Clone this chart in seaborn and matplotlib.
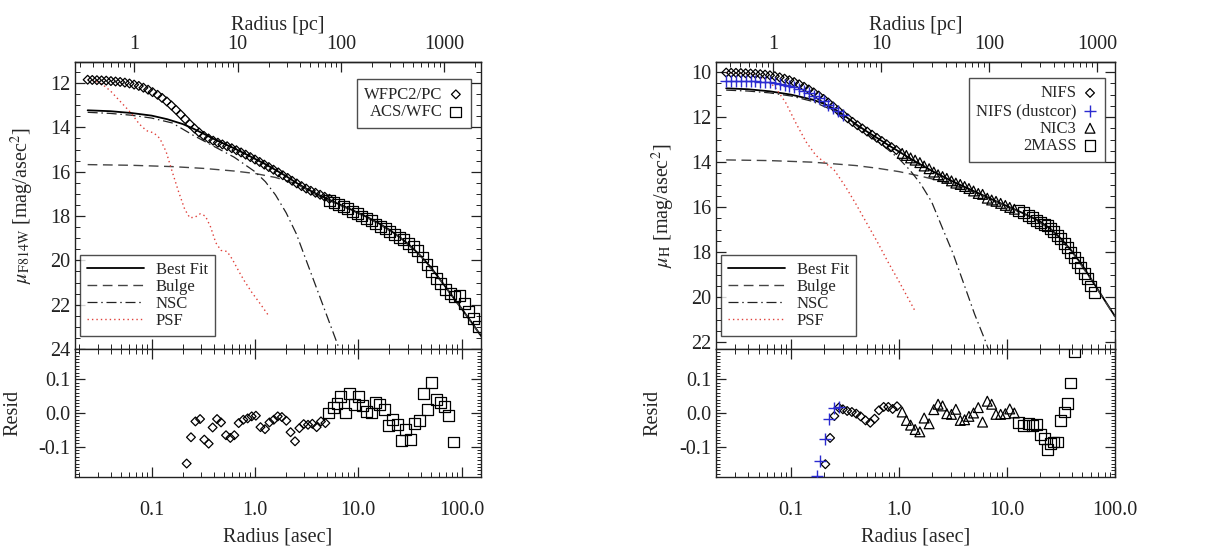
import matplotlib
matplotlib.use("Agg")
import matplotlib.pyplot as plt
import numpy as np
import seaborn as sns
from matplotlib.ticker import FixedLocator, LogLocator, MultipleLocator, NullFormatter

# ---------------- left panel (F814W) ----------------
PC_PER_ASEC = 14.7

wfpc_r = [0.0240, 0.0266, 0.0295, 0.0327, 0.0363, 0.0403, 0.0447, 0.0495, 0.0550, 0.0610,
          0.0676, 0.0750, 0.0832, 0.0923, 0.102, 0.114, 0.126, 0.140, 0.155, 0.172,
          0.191, 0.211, 0.234, 0.260, 0.288, 0.320, 0.355, 0.394, 0.437, 0.484,
          0.537, 0.596, 0.661, 0.733, 0.813, 0.902, 1.00, 1.11, 1.23, 1.36,
          1.51, 1.68, 1.86, 2.07, 2.29, 2.54, 2.82, 3.13, 3.47, 3.85,
          4.27, 4.73, 5.25]
wfpc_mu = [11.85, 11.86, 11.87, 11.88, 11.89, 11.91, 11.93, 11.95, 11.98, 12.02,
           12.07, 12.13, 12.21, 12.30, 12.41, 12.53, 12.67, 12.83, 13.01, 13.21,
           13.42, 13.63, 13.85, 14.05, 14.23, 14.38, 14.50, 14.60, 14.69, 14.77,
           14.85, 14.94, 15.03, 15.13, 15.23, 15.34, 15.45, 15.56, 15.68, 15.79,
           15.91, 16.03, 16.16, 16.28, 16.41, 16.53, 16.65, 16.76, 16.86, 16.95,
           17.04, 17.13, 17.22]

acs_r = [5.25, 5.82, 6.46, 7.16, 7.94, 8.81, 9.77, 10.8, 12.0, 13.3,
         14.8, 16.4, 18.2, 20.2, 22.4, 24.8, 27.5, 30.5, 33.9, 37.6,
         41.7, 46.2, 51.3, 56.9, 63.1, 70.0, 77.6, 86.1, 95.5, 106,
         117, 130, 145]
acs_mu = [17.30, 17.38, 17.46, 17.55, 17.66, 17.78, 17.90, 18.00, 18.10, 18.22,
          18.36, 18.46, 18.56, 18.70, 18.82, 18.96, 19.08, 19.22, 19.38, 19.57,
          19.85, 20.20, 20.50, 20.80, 21.05, 21.30, 21.50, 21.62, 21.58, 21.95,
          22.30, 22.62, 23.00]

fitL_r = [0.0240, 0.0398, 0.0631, 0.100, 0.141, 0.200, 0.251, 0.316, 0.398, 0.501,
          0.631, 0.794, 1.00, 1.26, 1.58, 2.00, 2.51, 3.16, 3.98, 5.01,
          6.31, 7.94, 10.0, 12.6, 15.8, 20.0, 25.1, 31.6, 39.8, 50.1,
          63.1, 79.4, 100, 126, 158]
fitL_mu = [13.23, 13.27, 13.35, 13.47, 13.63, 13.85, 14.05, 14.28, 14.52, 14.74,
           14.95, 15.18, 15.42, 15.66, 15.92, 16.20, 16.50, 16.77, 17.01, 17.22,
           17.44, 17.64, 17.86, 18.08, 18.33, 18.62, 18.95, 19.33, 19.78, 20.30,
           20.92, 21.55, 22.18, 22.82, 23.48]

bulgeL_r = [0.0240, 0.0631, 0.158, 0.316, 0.631, 1.00, 1.58, 2.51, 3.98, 6.31,
            10.0, 15.8, 25.1, 39.8, 63.1, 100, 158]
bulgeL_mu = [15.68, 15.71, 15.77, 15.85, 15.97, 16.08, 16.26, 16.55, 17.06, 17.47,
             17.88, 18.35, 18.96, 19.79, 20.93, 22.19, 23.49]

nscL_r = [0.0240, 0.0398, 0.0631, 0.100, 0.158, 0.251, 0.398, 0.631, 1.00, 1.26,
          1.58, 2.00, 2.51, 3.16, 3.98, 5.01, 6.31, 6.61]
nscL_mu = [13.32, 13.37, 13.45, 13.58, 13.80, 14.35, 14.85, 15.35, 16.00, 16.45,
           17.05, 17.85, 18.80, 20.05, 21.30, 22.55, 23.80, 24.10]

psfL_r = [0.0240, 0.0282, 0.0331, 0.0398, 0.0501, 0.0631, 0.0759, 0.0891, 0.105, 0.120,
          0.138, 0.158, 0.182, 0.209, 0.234, 0.263, 0.295, 0.331, 0.372, 0.417,
          0.468, 0.537, 0.603, 0.708, 0.794, 0.933, 1.12, 1.38]
psfL_mu = [11.85, 11.90, 12.05, 12.35, 12.85, 13.35, 13.85, 14.15, 14.25, 14.50,
           15.10, 16.00, 16.90, 17.70, 18.08, 18.05, 17.90, 18.00, 18.50, 19.20,
           19.55, 19.60, 19.95, 20.55, 20.95, 21.45, 21.95, 22.55]

wfpc_res_r = [0.218, 0.240, 0.265, 0.294, 0.323, 0.356, 0.389, 0.429, 0.469, 0.524,
              0.577, 0.631, 0.695, 0.771, 0.849, 0.929, 1.02, 1.13, 1.25, 1.38,
              1.52, 1.66, 1.82, 2.01, 2.21, 2.44, 2.69, 2.96, 3.26, 3.59,
              3.95, 4.35, 4.80]
wfpc_res = [-0.150, -0.072, -0.025, -0.018, -0.079, -0.091, -0.043, -0.018, -0.028, -0.066,
            -0.074, -0.066, -0.030, -0.020, -0.016, -0.010, -0.008, -0.042, -0.048, -0.028,
            -0.020, -0.010, -0.012, -0.023, -0.057, -0.084, -0.045, -0.033, -0.035, -0.032,
            -0.042, -0.025, -0.030]
acs_res_r = [5.16, 5.73, 6.22, 6.79, 7.48, 8.30, 9.15, 10.1, 11.0, 12.1,
             13.3, 14.6, 16.2, 17.9, 19.7, 21.6, 23.8, 26.3, 28.9, 31.9,
             35.1, 38.9, 42.6, 46.9, 51.6, 56.9, 62.2, 68.4, 75.4, 83.0]
acs_res = [0.000, 0.017, 0.028, 0.048, 0.000, 0.057, 0.025, 0.048, 0.023, 0.005,
           0.000, 0.030, 0.024, 0.010, -0.038, -0.018, -0.035, -0.082, -0.050, -0.079,
           -0.030, -0.022, 0.059, 0.010, 0.091, 0.040, 0.030, 0.020, -0.008, -0.086]

# ---------------- right panel (H band) ----------------
nifs_r = [0.0251, 0.0279, 0.0309, 0.0343, 0.0380, 0.0422, 0.0468, 0.0519, 0.0575, 0.0638,
          0.0708, 0.0785, 0.0871, 0.0966, 0.107, 0.119, 0.132, 0.146, 0.162, 0.180,
          0.200, 0.221, 0.245, 0.272, 0.302, 0.335, 0.371, 0.412, 0.457, 0.507,
          0.562, 0.624, 0.692, 0.767, 0.851, 0.944]
nifs_mu = [10.02, 10.03, 10.03, 10.04, 10.05, 10.06, 10.07, 10.09, 10.11, 10.14,
           10.18, 10.23, 10.29, 10.36, 10.44, 10.54, 10.65, 10.77, 10.90, 11.04,
           11.19, 11.35, 11.52, 11.70, 11.88, 12.05, 12.21, 12.36, 12.50, 12.64,
           12.78, 12.92, 13.06, 13.20, 13.33, 13.46]
dust_r = [0.0251, 0.0279, 0.0309, 0.0343, 0.0380, 0.0422, 0.0468, 0.0519, 0.0575, 0.0638,
          0.0708, 0.0785, 0.0871, 0.0966, 0.107, 0.119, 0.132, 0.146, 0.162, 0.180,
          0.200, 0.221, 0.245, 0.272, 0.302]
dust_mu = [10.38, 10.38, 10.38, 10.39, 10.39, 10.40, 10.41, 10.42, 10.43, 10.45,
           10.48, 10.52, 10.57, 10.62, 10.68, 10.76, 10.84, 10.94, 11.05, 11.17,
           11.30, 11.44, 11.59, 11.74, 11.90]
nic3_r = [1.07, 1.17, 1.28, 1.41, 1.56, 1.71, 1.90, 2.10, 2.30, 2.53,
          2.77, 3.06, 3.36, 3.69, 4.05, 4.44, 4.90, 5.42, 5.94, 6.57,
          7.21, 7.91, 8.73, 9.65, 10.6, 11.7]
nic3_mu = [13.61, 13.70, 13.81, 13.91, 14.02, 14.17, 14.29, 14.44, 14.56, 14.64,
           14.72, 14.83, 14.93, 14.99, 15.08, 15.17, 15.28, 15.39, 15.43, 15.60,
           15.68, 15.74, 15.83, 15.92, 16.01, 16.09]
tmass_r = [12.9, 14.2, 15.7, 17.2, 18.9, 20.6, 22.2, 23.7, 25.3, 26.9,
           29.6, 31.5, 33.8, 36.3, 39.0, 41.9, 45.0, 48.3, 51.9, 55.7,
           59.8, 64.3]
tmass_mu = [16.15, 16.24, 16.36, 16.47, 16.59, 16.67, 16.76, 16.83, 16.95, 17.06,
            17.26, 17.40, 17.60, 17.79, 18.00, 18.25, 18.45, 18.68, 18.95, 19.15,
            19.50, 19.80]

fitR_r = [0.0251, 0.0398, 0.0631, 0.100, 0.158, 0.200, 0.251, 0.316, 0.398, 0.501,
          0.631, 0.794, 1.00, 1.26, 1.58, 2.00, 2.51, 3.16, 3.98, 5.01,
          6.31, 7.94, 10.0, 12.6, 15.8, 20.0, 25.1, 31.6, 39.8, 50.1,
          63.1, 79.4, 100]
fitR_mu = [10.72, 10.76, 10.85, 11.00, 11.22, 11.40, 11.63, 11.95, 12.31, 12.63,
           12.93, 13.24, 13.53, 13.83, 14.10, 14.38, 14.62, 14.86, 15.08, 15.30,
           15.52, 15.74, 15.95, 16.16, 16.38, 16.62, 16.95, 17.40, 17.95, 18.60,
           19.35, 20.10, 20.85]

bulgeR_r = [0.0251, 0.0631, 0.158, 0.398, 0.631, 1.00, 1.58, 2.51, 3.98, 6.31,
            10.0, 15.8, 25.1, 39.8, 63.1, 100]
bulgeR_mu = [13.90, 13.93, 14.00, 14.15, 14.27, 14.42, 14.62, 14.85, 15.15, 15.55,
             15.97, 16.40, 16.97, 17.97, 19.37, 20.87]

nscR_r = [0.0251, 0.0398, 0.0631, 0.100, 0.158, 0.251, 0.398, 0.631, 1.00, 1.26,
          1.58, 2.00, 2.51, 3.16, 3.98, 5.01, 6.31, 7.08]
nscR_mu = [10.80, 10.84, 10.92, 11.06, 11.30, 11.72, 12.35, 13.05, 13.85, 14.35,
           14.95, 15.75, 16.90, 18.05, 19.40, 20.75, 21.95, 22.60]

psfR_r = [0.0251, 0.0355, 0.0447, 0.0562, 0.0708, 0.0891, 0.112, 0.138, 0.170, 0.209,
          0.251, 0.316, 0.398, 0.501, 0.631, 0.794, 1.00, 1.20, 1.43]
psfR_mu = [10.02, 10.05, 10.10, 10.30, 10.65, 11.35, 12.30, 13.10, 13.70, 14.05,
           14.35, 15.05, 15.85, 16.70, 17.55, 18.45, 19.30, 20.00, 20.67]

dust_res_r = [0.173, 0.187, 0.208, 0.227, 0.252, 0.277]
dust_res = [-0.187, -0.142, -0.076, -0.017, 0.016, 0.018]
nifs_res_r = [0.208, 0.230, 0.252, 0.277, 0.302, 0.331, 0.366, 0.402, 0.441, 0.490,
              0.542, 0.594, 0.652, 0.721, 0.796, 0.873, 0.958]
nifs_res = [-0.152, -0.074, -0.009, 0.016, 0.011, 0.006, 0.003, -0.002, -0.010, -0.022,
            -0.029, -0.017, 0.008, 0.018, 0.018, 0.012, 0.020]
nic3_res_r = [1.07, 1.17, 1.28, 1.41, 1.56, 1.71, 1.90, 2.10, 2.30, 2.53,
              2.77, 3.06, 3.36, 3.69, 4.05, 4.44, 4.90, 5.42, 5.94, 6.57,
              7.21, 7.91, 8.73, 9.65, 10.6, 11.7]
nic3_res = [0.003, -0.022, -0.036, -0.049, -0.056, -0.015, -0.032, 0.010, 0.026, 0.021,
            -0.002, -0.004, 0.011, -0.022, -0.020, -0.010, 0.000, 0.016, -0.027, 0.035,
            0.026, -0.004, -0.004, -0.002, 0.012, 0.000]
tmass_res_r = [12.9, 14.2, 15.7, 17.2, 18.9, 20.6, 22.2, 23.7, 25.3, 26.9,
               29.6, 31.5, 33.8, 36.3, 39.0, 41.9]
tmass_res = [-0.029, -0.036, -0.032, -0.038, -0.034, -0.064, -0.076, -0.107, -0.091, -0.086,
             -0.086, -0.022, 0.003, 0.028, 0.089, 0.183]

# ---------------- style ----------------
sns.set_style("ticks")
plt.rcParams["font.family"] = ["Liberation Serif", "DejaVu Serif"]
plt.rcParams["mathtext.fontset"] = "stix"
plt.rcParams["axes.unicode_minus"] = False
plt.rcParams["axes.linewidth"] = 1.0
plt.rcParams["axes.edgecolor"] = "#222222"

TICK_FS = 14.5
LABEL_FS = 14.5
LEG_FS = 12
BLUE = "#2b2bd0"
RED = "#e0403a"
DIAM_S = 20
SQ_S = 62
TRI_S = 50


def open_markers(ax, x, y, marker, size, label=None):
    sns.scatterplot(x=x, y=y, ax=ax, marker=marker, s=size, facecolors="none",
                    edgecolor="black", linewidth=0.9, label=label, zorder=4)


def model_line(ax, x, y, label, **kw):
    sns.lineplot(x=x, y=y, ax=ax, label=label, estimator=None, sort=False, **kw)


def style_axes(ax_main, ax_res, xlim, ylim, yticks):
    for ax in (ax_main, ax_res):
        ax.set_xscale("log")
        ax.set_xlim(*xlim)
        ax.tick_params(which="both", direction="in", right=True, colors="#222222",
                       labelsize=TICK_FS)
        ax.tick_params(which="major", length=7, width=0.9)
        ax.tick_params(which="minor", length=3.5, width=0.7)
        ax.xaxis.set_minor_locator(LogLocator(base=10, subs=np.arange(2, 10)))
        ax.xaxis.set_minor_formatter(NullFormatter())
    ax_main.tick_params(which="both", top=False, bottom=True, labelbottom=False)
    ax_res.tick_params(axis="x", which="both", top=True, bottom=True, pad=17)
    ax_main.set_ylim(*ylim)
    ax_main.yaxis.set_major_locator(FixedLocator(yticks))
    ax_main.set_yticklabels([str(t) for t in yticks])
    ax_main.yaxis.set_minor_locator(MultipleLocator(0.5))
    ax_res.set_ylim(-0.19, 0.19)
    ax_res.yaxis.set_major_locator(FixedLocator([-0.1, 0.0, 0.1]))
    ax_res.set_yticklabels(["-0.1", "0.0", "0.1"])
    ax_res.yaxis.set_minor_locator(MultipleLocator(0.01))
    ax_res.tick_params(axis="y", which="minor", length=3)
    xt = [0.1, 1.0, 10.0, 100.0]
    ax_res.xaxis.set_major_locator(FixedLocator(xt))
    ax_res.set_xticklabels(["0.1", "1.0", "10.0", "100.0"])
    ax_res.set_xlabel("Radius [asec]", fontsize=LABEL_FS, labelpad=6)
    ax_res.set_ylabel("Resid", fontsize=LABEL_FS)

    sec = ax_main.secondary_xaxis("top", functions=(lambda r: r * PC_PER_ASEC,
                                                    lambda p: p / PC_PER_ASEC))
    sec.set_xticks([1, 10, 100, 1000])
    sec.set_xticklabels(["1", "10", "100", "1000"])
    sec.xaxis.set_minor_locator(LogLocator(base=10, subs=np.arange(2, 10)))
    sec.xaxis.set_minor_formatter(NullFormatter())
    sec.tick_params(which="both", direction="in", labelsize=TICK_FS, pad=6,
                    colors="#222222")
    sec.tick_params(which="major", length=7, width=0.9)
    sec.tick_params(which="minor", length=3.5, width=0.7)
    sec.set_xlabel("Radius [pc]", fontsize=LABEL_FS, labelpad=3)


def line_legend(ax, handles, labels):
    leg = ax.legend(handles, labels, loc="lower left", bbox_to_anchor=(0.012, 0.045),
                    fontsize=LEG_FS, frameon=True, fancybox=False, edgecolor="#222222",
                    handlelength=3.4, handletextpad=0.7, borderpad=0.45,
                    labelspacing=0.05, borderaxespad=0.0)
    leg.get_frame().set_linewidth(1.0)
    return leg


def marker_legend(ax, handles, labels, anchor):
    leg = ax.legend(handles, labels, loc="upper right", bbox_to_anchor=anchor,
                    fontsize=LEG_FS, frameon=True, fancybox=False, edgecolor="#222222",
                    markerfirst=False, handlelength=0.9, handletextpad=0.35,
                    borderpad=0.45, labelspacing=0.1, borderaxespad=0.0)
    leg.get_frame().set_linewidth(1.0)
    return leg


fig = plt.figure(figsize=(12.29, 5.47), dpi=100)

# axes geometry (pixels from the reference)
W, H = 1229.0, 547.0
top, mid, bot = 62.0, 349.0, 477.0


def add_pair(x0, x1):
    main = fig.add_axes([x0 / W, (H - mid) / H, (x1 - x0) / W, (mid - top) / H])
    res = fig.add_axes([x0 / W, (H - bot) / H, (x1 - x0) / W, (bot - mid) / H],
                       sharex=main)
    return main, res


axL, axLr = add_pair(75, 481)
axR, axRr = add_pair(716, 1115)

# ---- left panel ----
model_line(axL, fitL_r, fitL_mu, "Best Fit", color="black", linewidth=1.3)
model_line(axL, bulgeL_r, bulgeL_mu, "Bulge", color="#444444", linewidth=1.0,
           dashes=(7, 4))
model_line(axL, nscL_r, nscL_mu, "NSC", color="#222222", linewidth=0.9,
           dashes=(8, 3, 1.2, 3))
model_line(axL, psfL_r, psfL_mu, "PSF", color=RED, linewidth=1.0, dashes=(1, 2.2))
open_markers(axL, wfpc_r, wfpc_mu, "D", DIAM_S, "WFPC2/PC")
open_markers(axL, acs_r, acs_mu, "s", SQ_S, "ACS/WFC")

open_markers(axLr, wfpc_res_r, wfpc_res, "D", DIAM_S)
open_markers(axLr, acs_res_r, acs_res, "s", SQ_S)

style_axes(axL, axLr, (0.0181, 154), (24.0, 11.05), [12, 14, 16, 18, 20, 22, 24])
axL.set_ylabel(r"$\mu_{\rm F814W}$ [mag/asec$^2$]", fontsize=LABEL_FS)
axL.yaxis.set_label_coords(-0.097, 0.5)
axLr.yaxis.set_label_coords(-0.13, 0.5)

h, l = axL.get_legend_handles_labels()
axL.add_artist(line_legend(axL, h[:4], l[:4]))
marker_legend(axL, h[4:], l[4:], (0.975, 0.94))

# ---- right panel ----
model_line(axR, fitR_r, fitR_mu, "Best Fit", color="black", linewidth=1.3)
model_line(axR, bulgeR_r, bulgeR_mu, "Bulge", color="#444444", linewidth=1.0,
           dashes=(7, 4))
model_line(axR, nscR_r, nscR_mu, "NSC", color="#222222", linewidth=0.9,
           dashes=(8, 3, 1.2, 3))
model_line(axR, psfR_r, psfR_mu, "PSF", color=RED, linewidth=1.0, dashes=(1, 2.2))
open_markers(axR, nifs_r, nifs_mu, "D", DIAM_S, "NIFS")
sns.scatterplot(x=dust_r, y=dust_mu, ax=axR, marker="+", s=70, color=BLUE,
                linewidth=1.0, label="NIFS (dustcor)", zorder=5)
open_markers(axR, nic3_r, nic3_mu, "^", TRI_S, "NIC3")
open_markers(axR, tmass_r, tmass_mu, "s", SQ_S, "2MASS")

open_markers(axRr, nifs_res_r, nifs_res, "D", DIAM_S)
sns.scatterplot(x=dust_res_r, y=dust_res, ax=axRr, marker="+", s=70, color=BLUE,
                linewidth=1.0, zorder=5)
open_markers(axRr, nic3_res_r, nic3_res, "^", TRI_S)
open_markers(axRr, tmass_res_r, tmass_res, "s", SQ_S)

style_axes(axR, axRr, (0.0202, 100), (22.3, 9.55), [10, 12, 14, 16, 18, 20, 22])
axR.set_ylabel(r"$\mu_{\rm H}$ [mag/asec$^2$]", fontsize=LABEL_FS)
axR.yaxis.set_label_coords(-0.098, 0.5)
axRr.yaxis.set_label_coords(-0.133, 0.5)

h, l = axR.get_legend_handles_labels()
axR.add_artist(line_legend(axR, h[:4], l[:4]))
marker_legend(axR, h[4:], l[4:], (0.975, 0.945))

fig.savefig("out.png", dpi=100)
